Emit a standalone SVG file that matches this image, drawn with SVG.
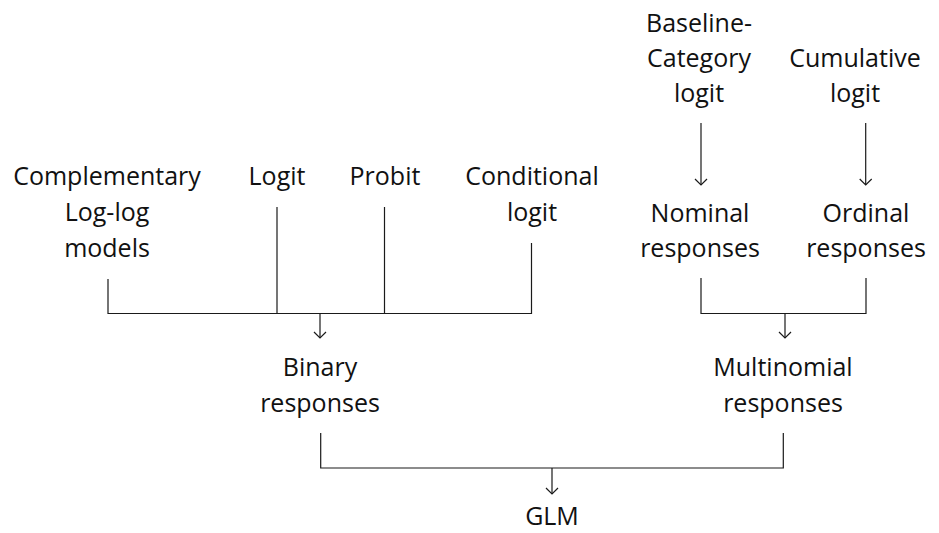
<svg xmlns="http://www.w3.org/2000/svg" width="939" height="533" viewBox="0 0 939 533">
<style>
  text { font-family: "Open Sans", "Noto Sans", "DejaVu Sans", sans-serif; font-size: 25px; fill: #111; text-anchor: middle; }
  .c { fill: none; stroke: #1a1a1a; stroke-width: 1.2; }
</style>
<defs>
  <marker id="arr" markerUnits="userSpaceOnUse" markerWidth="14" markerHeight="14" viewBox="-8 -7 10 14" refX="0" refY="0" orient="auto" overflow="visible">
    <path d="M -6 -6 Q -1.5 -1.5 0 0 Q -1.5 1.5 -6 6" fill="none" stroke="#1a1a1a" stroke-width="1.2"/>
  </marker>
</defs>
<g id="connectors">
  <path class="c" d="M108 279 V313.5 H531.5 V243"/>
  <path class="c" d="M277 207 V313.5"/>
  <path class="c" d="M384.5 207 V313.5"/>
  <path class="c" d="M320 313.5 V338" marker-end="url(#arr)"/>
  <path class="c" d="M701 278 V313.5 H866 V278"/>
  <path class="c" d="M785 313.5 V338" marker-end="url(#arr)"/>
  <path class="c" d="M701 123 V185" marker-end="url(#arr)"/>
  <path class="c" d="M865.7 123 V185" marker-end="url(#arr)"/>
  <path class="c" d="M320.7 433 V468 H783.3 V433"/>
  <path class="c" d="M552 468 V494" marker-end="url(#arr)"/>
</g>
<g id="baseline-category">
  <text x="699" y="31.7">Baseline-</text>
  <text x="699" y="66.7">Category</text>
  <text x="699" y="101.7">logit</text>
</g>
<g id="cumulative">
  <text x="855" y="66.7">Cumulative</text>
  <text x="855" y="101.7">logit</text>
</g>
<g id="complementary">
  <text x="107" y="185">Complementary</text>
  <text x="107" y="221">Log-log</text>
  <text x="107" y="257">models</text>
</g>
<g id="logit"><text x="277" y="185">Logit</text></g>
<g id="probit"><text x="385" y="185">Probit</text></g>
<g id="conditional">
  <text x="532" y="185">Conditional</text>
  <text x="532" y="221">logit</text>
</g>
<g id="nominal">
  <text x="700" y="221.7">Nominal</text>
  <text x="700" y="257">responses</text>
</g>
<g id="ordinal">
  <text x="866" y="221.7">Ordinal</text>
  <text x="866" y="257">responses</text>
</g>
<g id="binary">
  <text x="320" y="376">Binary</text>
  <text x="320" y="411.7">responses</text>
</g>
<g id="multinomial">
  <text x="783" y="376">Multinomial</text>
  <text x="783" y="411.7">responses</text>
</g>
<g id="glm"><text x="552" y="525">GLM</text></g>
</svg>
